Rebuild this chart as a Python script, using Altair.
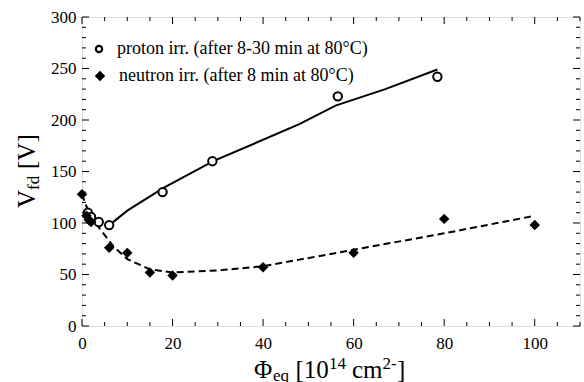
import altair as alt
import pandas as pd

# ---- data ----
proton_x = [1.3, 2.0, 3.7, 6.0, 17.8, 28.8, 56.5, 78.5]
proton_y = [110, 106, 101, 98, 130, 160, 223, 242]

neutron_x = [0, 1.0, 1.5, 2.0, 6.0, 10.0, 15.0, 20.0, 40.0, 60.0, 80.0, 100.0]
neutron_y = [128, 107, 103, 101, 76, 71, 52, 49, 57, 71, 104, 98]

proton_fit_x = [5.5, 10, 18, 29, 48, 56, 67, 78.5]
proton_fit_y = [96, 112, 134, 160, 196, 214, 230, 249]

neutron_fit_x = [0, 1, 2, 4, 7, 10, 15, 20, 30, 40, 60, 80, 100]
neutron_fit_y = [128, 116, 107, 94, 77, 65, 55, 52, 54, 58, 74, 90, 107]

x_major = [0, 20, 40, 60, 80, 100]
x_minor = [v for v in range(0, 111, 5) if v % 20 != 0]
y_major = [0, 50, 100, 150, 200, 250, 300]
y_minor = [v for v in range(0, 301, 10) if v % 50 != 0]

legend_labels = ["proton irr. (after 8-30 min at 80°C)",
                 "neutron irr. (after 8 min at 80°C)"]

W, H = 498, 309
FONT = "Liberation Serif"

xs = alt.Scale(domain=[0, 110], nice=False, zero=False)
ys = alt.Scale(domain=[0, 300], nice=False, zero=False)

xaxis = alt.Axis(values=x_major, ticks=False, domain=False, grid=False,
                 labelFont=FONT, labelFontSize=17, labelColor="black",
                 labelPadding=9, title=None, labelFlush=False)
yaxis = alt.Axis(values=y_major, ticks=False, domain=False, grid=False,
                 labelFont=FONT, labelFontSize=17, labelColor="black",
                 labelPadding=6, title=None)

prot = pd.DataFrame({"x": proton_x, "y": proton_y})
neut = pd.DataFrame({"x": neutron_x, "y": neutron_y})
pfit = pd.DataFrame({"x": proton_fit_x, "y": proton_fit_y})
nfit = pd.DataFrame({"x": neutron_fit_x, "y": neutron_fit_y})

base_axes = alt.Chart(pd.DataFrame({"x": [0], "y": [0]})).mark_point(opacity=0).encode(
    x=alt.X("x:Q", scale=xs, axis=xaxis),
    y=alt.Y("y:Q", scale=ys, axis=yaxis),
)

pline = alt.Chart(pfit).mark_line(color="black", strokeWidth=2).encode(
    x=alt.X("x:Q", scale=xs), y=alt.Y("y:Q", scale=ys))
nline = alt.Chart(nfit).mark_line(color="black", strokeWidth=2,
                                  strokeDash=[7, 4]).encode(
    x=alt.X("x:Q", scale=xs), y=alt.Y("y:Q", scale=ys))

ppts = alt.Chart(prot).mark_point(shape="circle", filled=True, fill="white",
                                  stroke="black", strokeWidth=2, size=70,
                                  opacity=1).encode(
    x=alt.X("x:Q", scale=xs), y=alt.Y("y:Q", scale=ys))
npts = alt.Chart(neut).mark_point(shape="diamond", filled=True, color="black",
                                  size=110, opacity=1).encode(
    x=alt.X("x:Q", scale=xs), y=alt.Y("y:Q", scale=ys))

# ---- inward ticks on all four sides ----
def tick_layers(vals, length, axis):
    df = pd.DataFrame({"v": vals})
    c = alt.Chart(df).mark_rule(color="black", strokeWidth=1)
    if axis == "x":
        bottom = c.encode(x=alt.X("v:Q", scale=xs),
                          y=alt.value(H), y2=alt.value(H - length))
        top = c.encode(x=alt.X("v:Q", scale=xs),
                       y=alt.value(0), y2=alt.value(length))
        return [bottom, top]
    left = c.encode(y=alt.Y("v:Q", scale=ys),
                    x=alt.value(0), x2=alt.value(length))
    right = c.encode(y=alt.Y("v:Q", scale=ys),
                     x=alt.value(W), x2=alt.value(W - length))
    return [left, right]

ticks = (tick_layers(x_major, 7, "x") + tick_layers(x_minor, 4, "x")
         + tick_layers(y_major, 7, "y") + tick_layers(y_minor, 4, "y"))

# ---- legend ----
one = pd.DataFrame({"k": [0]})
leg_c = alt.Chart(one).mark_point(shape="circle", filled=True, fill="white",
                                  stroke="black", strokeWidth=2.2, size=40,
                                  opacity=1).encode(x=alt.value(17), y=alt.value(32))
leg_d = alt.Chart(one).mark_point(shape="diamond", filled=True, color="black",
                                  size=110, opacity=1).encode(x=alt.value(18), y=alt.value(59))
leg_t1 = alt.Chart(one).mark_text(text=legend_labels[0], font=FONT, fontSize=18,
                                  align="left", baseline="middle", color="black").encode(
    x=alt.value(35), y=alt.value(32))
leg_t2 = alt.Chart(one).mark_text(text=legend_labels[1], font=FONT, fontSize=18,
                                  align="left", baseline="middle", color="black").encode(
    x=alt.value(37), y=alt.value(59))

# ---- axis titles with sub/superscripts ----
def txt(s, x, y, size, angle=0):
    kw = dict(text=s, font=FONT, fontSize=size, align="left",
              baseline="alphabetic", color="black")
    if angle:
        kw["angle"] = angle
    return alt.Chart(one).mark_text(**kw).encode(x=alt.value(x), y=alt.value(y))

xtitle = [
    txt("Φ", 172, 361, 25),
    txt("eq", 191, 364, 17),
    txt("[10", 213.5, 361, 25),
    txt("14", 247, 351.5, 17),
    txt("cm", 270, 361, 25),
    txt("2-", 300.5, 351.5, 17),
    txt("]", 315, 361, 25),
]
ytitle = [
    txt("V", -47, 191, 25, 270),
    txt("fd", -43, 173, 17, 270),
    txt("[V]", -47, 152, 25, 270),
]

chart = alt.layer(base_axes, *ticks, pline, nline, ppts, npts,
                  leg_c, leg_d, leg_t1, leg_t2, *xtitle, *ytitle).properties(
    width=W, height=H,
    autosize=alt.AutoSizeParams(type="none"),
    padding={"left": 82, "top": 17, "right": 4, "bottom": 56},
).configure_view(stroke="black", strokeWidth=1.5).configure(background="white")

chart.save("out.html", embed_options={"renderer": "svg", "actions": False})
